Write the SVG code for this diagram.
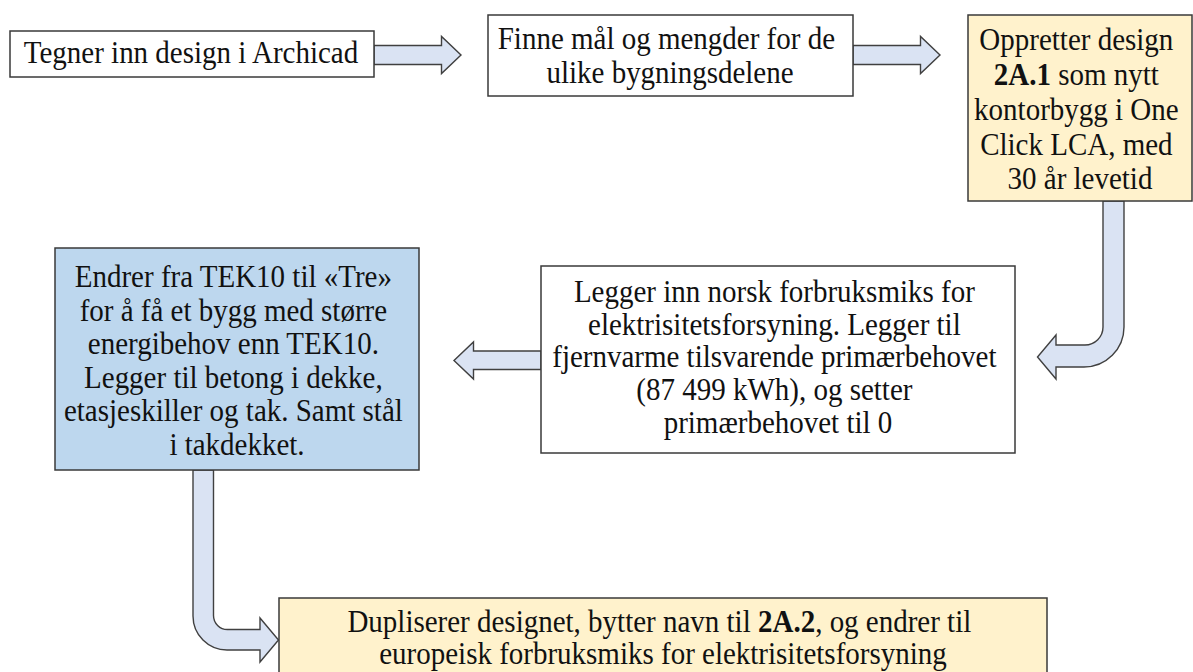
<svg xmlns="http://www.w3.org/2000/svg" width="1193" height="672" viewBox="0 0 1193 672">
  <style>
    .box { stroke: #3a3a3a; stroke-width: 1.5; }
    .white { fill: #ffffff; }
    .yellow { fill: #fff2cc; }
    .blue { fill: #bdd7ee; }
    .arrow { fill: #dae3f3; stroke: #404040; stroke-width: 1.4; stroke-linejoin: miter; }
    .t { font-family: "Liberation Serif", "Times New Roman", serif; font-size: 29px; fill: #111111; text-anchor: middle; }
    .b { font-weight: bold; }
  </style>
  <rect width="1193" height="672" fill="#ffffff"/>

  <!-- block arrows between the steps -->
  <g id="connectors">
    <path class="arrow" d="M374,45.5 H441.5 V36.5 L461,55 L441.5,73.5 V64.5 H374 Z"/>
    <path class="arrow" d="M853,45.5 H920.5 V36.5 L940,55 L920.5,73.5 V64.5 H853 Z"/>
    <path class="arrow" d="M1103,201 V327 A18,18 0 0 1 1085,345 H1056 V335 L1037.5,357 L1056,379 V367 H1084 A40,40 0 0 0 1124,327 V201 Z"/>
    <path class="arrow" d="M541,351 H473.5 V342 L454,360.5 L473.5,379 V369.5 H541 Z"/>
    <path class="arrow" d="M193,470 V616 A34,34 0 0 0 227,650 H260 V662 L278.5,640 L260,618 V629.5 H227.5 A14,14 0 0 1 213.5,615.5 V470 Z"/>
  </g>

  <g id="step-archicad">
    <rect class="box white" x="10" y="31" width="364" height="46"/>
    <text class="t" transform="scale(1 1.1)"><tspan x="191" y="57.7">Tegner inn design i Archicad</tspan></text>
  </g>

  <g id="step-quantities">
    <rect class="box white" x="488" y="15" width="365" height="81"/>
    <text class="t" transform="scale(1 1.1)">
      <tspan x="670" y="44.5">Finne mål og mengder for de</tspan>
      <tspan x="670" y="75.5">ulike bygningsdelene</tspan>
    </text>
  </g>

  <g id="step-create-design">
    <rect class="box yellow" x="968" y="15" width="224" height="186"/>
    <text class="t" transform="scale(1 1.1)">
      <tspan x="1080" y="45.5">Oppretter design</tspan>
      <tspan x="1080" y="77.3"><tspan class="b">2A.1</tspan> som nytt</tspan>
      <tspan x="1080" y="109.1">kontorbygg i One</tspan>
      <tspan x="1080" y="140.5">Click LCA, med</tspan>
      <tspan x="1080" y="171.8">30 år levetid</tspan>
    </text>
  </g>

  <g id="step-electricity-mix">
    <rect class="box white" x="541" y="266" width="474" height="187"/>
    <text class="t" transform="scale(1 1.1)">
      <tspan x="778" y="275">Legger inn norsk forbruksmiks for</tspan>
      <tspan x="778" y="304.5">elektrisitetsforsyning. Legger til</tspan>
      <tspan x="778" y="334.1">fjernvarme tilsvarende primærbehovet</tspan>
      <tspan x="778" y="363.6">(87 499 kWh), og setter</tspan>
      <tspan x="778" y="393.2">primærbehovet til 0</tspan>
    </text>
  </g>

  <g id="step-energy-class">
    <rect class="box blue" x="55" y="248" width="364" height="222"/>
    <text class="t" transform="scale(1 1.1)">
      <tspan x="237" y="260.9">Endrer fra TEK10 til «Tre»</tspan>
      <tspan x="237" y="291.4">for å få et bygg med større</tspan>
      <tspan x="237" y="321.8">energibehov enn TEK10.</tspan>
      <tspan x="237" y="352.3">Legger til betong i dekke,</tspan>
      <tspan x="237" y="382.7">etasjeskiller og tak. Samt stål</tspan>
      <tspan x="237" y="413.2">i takdekket.</tspan>
    </text>
  </g>

  <g id="step-duplicate">
    <rect class="box yellow" x="279" y="598" width="768" height="90"/>
    <text class="t" transform="scale(1 1.1)">
      <tspan x="663" y="574.1">Dupliserer designet, bytter navn til <tspan class="b">2A.2</tspan>, og endrer til</tspan>
      <tspan x="663" y="603.2">europeisk forbruksmiks for elektrisitetsforsyning</tspan>
    </text>
  </g>
</svg>
